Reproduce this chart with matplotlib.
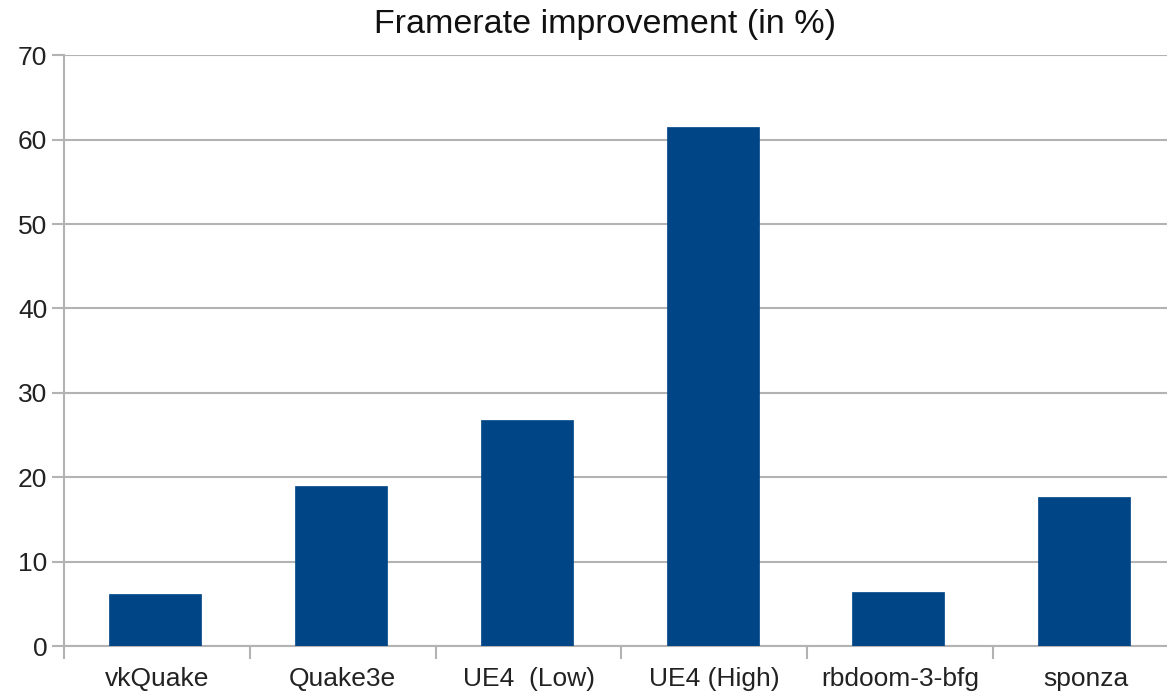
import matplotlib
matplotlib.use("Agg")
import matplotlib.pyplot as plt
import numpy as np

# Framerate improvement per benchmark (in %)
categories = ["vkQuake", "Quake3e", "UE4  (Low)", "UE4 (High)", "rbdoom-3-bfg", "sponza"]
improvement = [6.2, 19.0, 26.8, 61.5, 6.4, 17.6]
y_ticks = [0, 10, 20, 30, 40, 50, 60, 70]

plt.rcParams['font.family'] = ['Liberation Sans', 'DejaVu Sans']

W, H = 1167, 696
fig = plt.figure(figsize=(W / 100, H / 100), dpi=100)
# plot area runs a little past the right edge of the picture
ax = fig.add_axes([64 / W, 50 / H, (1179 - 64) / W, (646 - 55.3) / H])

x = np.arange(len(categories))
ax.bar(x - 0.01, improvement, width=0.495, color="#004586", edgecolor="#004586", linewidth=0.5, zorder=3)

grid_color = "#b3b3b3"
ax.set_xlim(-0.5, len(categories) - 0.5)
ax.set_ylim(0, 70)
ax.set_yticks(y_ticks)
ax.yaxis.grid(True, color=grid_color, linewidth=1.5, zorder=0)

# category labels centred, tick marks between categories
ax.set_xticks(x)
ax.set_xticklabels(categories, fontsize=19, color="#222222")
ax.set_xticks(np.arange(len(categories) + 1) - 0.5, minor=True)
ax.tick_params(axis="x", which="major", length=0, pad=15)
ax.tick_params(axis="x", which="minor", length=9, width=1.5, color=grid_color)
ax.tick_params(axis="y", length=9, width=1.5, color=grid_color, labelsize=19,
               labelcolor="#222222", pad=3)

for side in ["top", "right"]:
    ax.spines[side].set_visible(False)
for side in ["left", "bottom"]:
    ax.spines[side].set_color(grid_color)
    ax.spines[side].set_linewidth(1.5)

fig.text(605 / W, 1 - 24 / H, "Framerate improvement (in %)", fontsize=24.5,
         ha="center", va="center", color="#111111")

fig.savefig("out.png", dpi=100)
